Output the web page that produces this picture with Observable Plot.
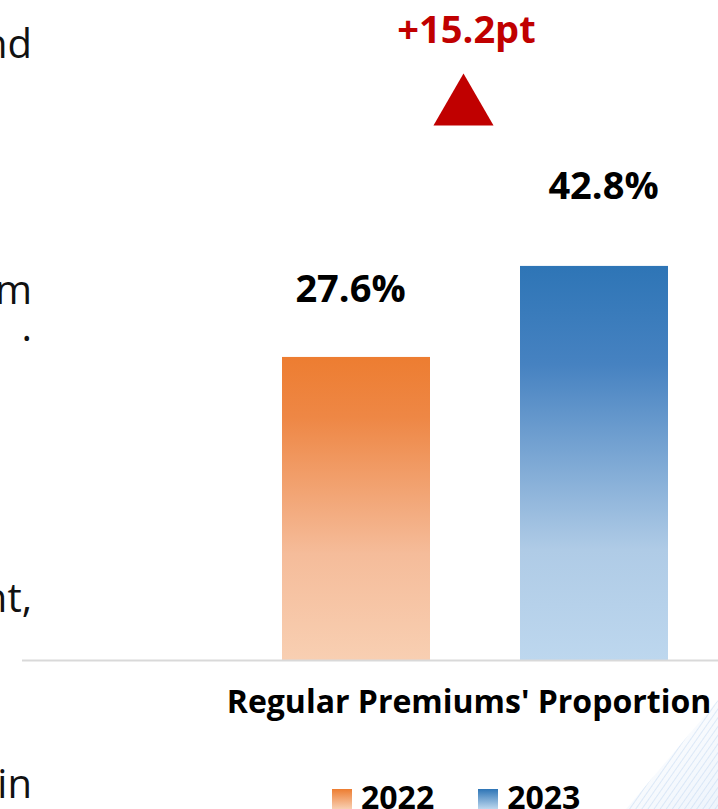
<!DOCTYPE html>
<html>
<head>
<meta charset="utf-8">
<script src="https://cdn.jsdelivr.net/npm/d3@7"></script>
<script src="https://cdn.jsdelivr.net/npm/@observablehq/plot@0.6"></script>
<style>
  html, body { margin: 0; padding: 0; background: #ffffff; }
  #wrap { position: relative; width: 718px; height: 809px; overflow: hidden; font-family: 'Open Sans', sans-serif; }
  #deco { position: absolute; left: 560px; top: 640px; width: 200px; height: 200px;
          background: repeating-linear-gradient(125deg, rgba(170,200,235,0.0) 0px, rgba(170,200,235,0.0) 3px, rgba(170,200,235,0.35) 4px, rgba(170,200,235,0.0) 5px),
                      linear-gradient(135deg, rgba(255,255,255,0) 40%, rgba(200,220,245,0.45) 100%);
          clip-path: polygon(100% 5%, 100% 100%, 20% 100%); }
  #chart { position: absolute; left: 0; top: 0; }
  .side { position: absolute; left: -300px; width: 332px; text-align: right; font-size: 40px; color: #111; line-height: 37px; white-space: pre; }
  #legend { position: absolute; left: 332px; top: 781px; display: flex; align-items: center; font-weight: 700; font-size: 32px; color: #000; line-height: 1; }
  #legend .sw { width: 20px; height: 20px; margin-right: 9px; margin-top: 4px; }
  #legend .item { display: flex; align-items: center; margin-right: 44px; }
</style>
</head>
<body>
<div id="wrap">
  <div id="deco"></div>
  <div id="side"></div>
  <div id="chart"></div>
  <div id="legend"></div>
</div>
<script>
// ---- data ----
const years = ["2022", "2023"];
const shares = [27.6, 42.8];
const category = "Regular Premiums' Proportion";
const sideFragments = ["nd", "m\n.", "nt,", "in"];

// ---- styling / layout config ----
const gradientStops = {
  "2022": [[0, "#ED7D31"], [0.2, "#EE8745"], [0.65, "#F5BC9A"], [1, "#F8CFB2"]],
  "2023": [[0, "#2E75B6"], [0.25, "#4682C1"], [0.72, "#AFCBE6"], [1, "#BDD7EE"]]
};
const labelOffsets = {"2022": {dx: -6, dy: -68}, "2023": {dx: 9, dy: -80}};
const axisFloor = -23;

const data = years.map((year, i) => ({year, share: shares[i]}));
const delta = shares[1] - shares[0];

const defs = () => {
  const d = d3.create("svg:defs");
  for (const year of years) {
    const lg = d.append("linearGradient").attr("id", "grad" + year)
      .attr("x1", 0).attr("y1", 0).attr("x2", 0).attr("y2", 1);
    for (const [o, c] of gradientStops[year]) lg.append("stop").attr("offset", o).attr("stop-color", c);
  }
  return d.node();
};

const labelMarks = years.map(year => Plot.text(data.filter(d => d.year === year), {
  x: "year", y: "share", text: d => d.share.toFixed(1) + "%",
  dx: labelOffsets[year].dx, dy: labelOffsets[year].dy,
  fontSize: 38, fontWeight: 700, fill: "#000"
}));

const chart = Plot.plot({
  width: 718,
  height: 730,
  marginLeft: 221,
  marginRight: 0,
  marginTop: 0,
  marginBottom: 70,
  style: {fontFamily: "'Open Sans', sans-serif", background: "transparent"},
  x: {domain: years, range: [192, 758], padding: 0.378, axis: null},
  y: {domain: [axisFloor, 87.2], axis: null},
  color: {domain: years, range: years.map(y => `url(#grad${y})`)},
  marks: [
    defs,
    Plot.barY(data, {x: "year", y1: axisFloor, y2: "share", fill: "year"}),
    Plot.ruleY([axisFloor], {stroke: "#d9d9d9", strokeWidth: 2, insetLeft: -199}),
    ...labelMarks,
    Plot.dot([delta], {frameAnchor: "top", dx: -6.5, dy: 107.6, symbol: "triangle", r: 22.3, fill: "#C00000", stroke: "none"}),
    Plot.text([delta], {frameAnchor: "top", lineAnchor: "middle", dx: -3.5, dy: 30.5, text: d => `+${d.toFixed(1)}pt`, fontSize: 38, fontWeight: 700, fill: "#C00000"}),
    Plot.text([category], {frameAnchor: "bottom", lineAnchor: "middle", dx: -1, dy: 42, text: d => d, fontSize: 32, fontWeight: 700, fill: "#000"})
  ]
});
document.getElementById("chart").appendChild(chart);

// side text fragments (cut-off slide paragraph)
const sideTops = [24, 270, 578, 764];
const side = document.getElementById("side");
sideFragments.forEach((t, i) => {
  const el = document.createElement("div");
  el.className = "side";
  el.style.top = sideTops[i] + "px";
  el.textContent = t;
  side.appendChild(el);
});

// legend
const legendCss = {
  "2022": "linear-gradient(180deg, #ED7D31 0%, #F8CFB2 100%)",
  "2023": "linear-gradient(180deg, #2E75B6 0%, #BDD7EE 100%)"
};
const legend = document.getElementById("legend");
years.forEach(year => {
  const item = document.createElement("div");
  item.className = "item";
  const sw = document.createElement("div");
  sw.className = "sw";
  sw.style.background = legendCss[year];
  const tx = document.createElement("span");
  tx.textContent = year;
  item.appendChild(sw); item.appendChild(tx);
  legend.appendChild(item);
});
</script>
</body>
</html>
